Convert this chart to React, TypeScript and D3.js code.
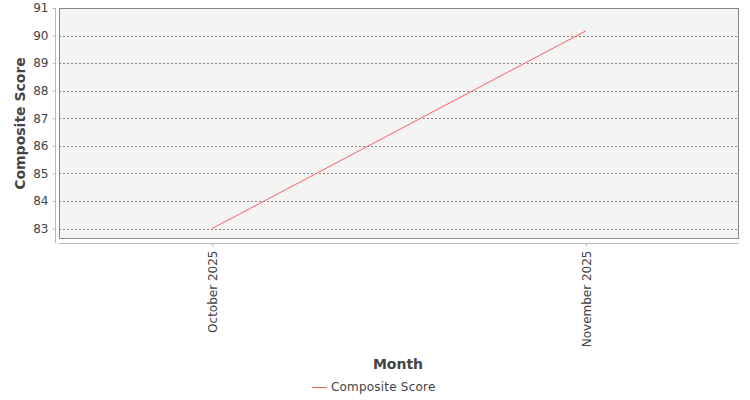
import { useEffect, useRef } from "react";
import * as d3 from "d3";

const months = ["October 2025", "November 2025"];
const compositeScores = [83.0, 90.17];
const yTicks = [83, 84, 85, 86, 87, 88, 89, 90, 91];
const seriesName = "Composite Score";

const width = 750;
const height = 400;
const plot = { left: 59, right: 739, top: 8, bottom: 239 };
const font = "'DejaVu Sans', sans-serif";
const lineColor = "#ff5f5f";

export default function App() {
  const svgRef = useRef<SVGSVGElement | null>(null);

  useEffect(() => {
    if (!svgRef.current) return;
    const svg = d3.select(svgRef.current);
    svg.selectAll("*").remove();

    const x = d3
      .scalePoint<string>()
      .domain(months)
      .range([plot.left, plot.right])
      .padding(0.41);

    const y = d3
      .scaleLinear()
      .domain([82.62, 91])
      .range([plot.bottom, plot.top]);

    // plot background
    svg
      .append("rect")
      .attr("x", plot.left)
      .attr("y", plot.top)
      .attr("width", plot.right - plot.left)
      .attr("height", plot.bottom - plot.top)
      .attr("fill", "#f4f4f4");

    // grid lines
    svg
      .append("g")
      .attr("transform", `translate(${plot.left},0)`)
      .call(
        d3
          .axisLeft(y)
          .tickValues(yTicks)
          .tickSize(-(plot.right - plot.left))
          .tickFormat(() => ""),
      )
      .call((g) => g.select(".domain").remove())
      .selectAll("line")
      .attr("stroke", "#555")
      .attr("stroke-width", 0.7)
      .attr("stroke-dasharray", "2 2")
      .attr("shape-rendering", "crispEdges");

    // plot border
    svg
      .append("rect")
      .attr("x", plot.left + 0.5)
      .attr("y", plot.top + 0.5)
      .attr("width", plot.right - plot.left - 1)
      .attr("height", plot.bottom - plot.top - 1)
      .attr("fill", "none")
      .attr("stroke", "#888")
      .attr("stroke-width", 1);

    // y axis
    const yAxis = svg
      .append("g")
      .attr("transform", `translate(${plot.left - 3.5},0)`)
      .call(d3.axisLeft(y).tickValues(yTicks).tickSize(3).tickPadding(4));
    yAxis
      .select(".domain")
      .attr("d", `M0,${plot.top}V${plot.bottom + 4}`)
      .attr("stroke", "#bbb");
    yAxis.selectAll(".tick line").attr("stroke", "#bbb");
    yAxis
      .selectAll("text")
      .attr("fill", "#444")
      .style("font-family", font)
      .style("font-size", "12px");

    // x axis
    const xAxis = svg
      .append("g")
      .attr("transform", `translate(0,${plot.bottom + 4.5})`)
      .call(d3.axisBottom(x).tickSize(3).tickPadding(4));
    xAxis
      .select(".domain")
      .attr("d", `M${plot.left},0H${plot.right}`)
      .attr("stroke", "#bbb");
    xAxis.selectAll(".tick line").attr("stroke", "#bbb");
    xAxis
      .selectAll("text")
      .attr("fill", "#444")
      .attr("transform", "rotate(-90)")
      .attr("text-anchor", "end")
      .attr("x", -7)
      .attr("y", 0)
      .attr("dy", "0.35em")
      .style("font-family", font)
      .style("font-size", "12px");

    // series line
    const line = d3
      .line<number>()
      .x((_, i) => x(months[i]) ?? 0)
      .y((d) => y(d));
    svg
      .append("path")
      .datum(compositeScores)
      .attr("d", line)
      .attr("fill", "none")
      .attr("stroke", lineColor)
      .attr("stroke-width", 1);

    // axis titles
    svg
      .append("text")
      .text("Month")
      .attr("x", 398)
      .attr("y", 369)
      .attr("text-anchor", "middle")
      .attr("fill", "#444")
      .style("font-family", font)
      .style("font-size", "14px")
      .style("font-weight", "bold");

    svg
      .append("text")
      .text("Composite Score")
      .attr("transform", `translate(25,${(plot.top + plot.bottom) / 2}) rotate(-90)`)
      .attr("text-anchor", "middle")
      .attr("fill", "#444")
      .style("font-family", font)
      .style("font-size", "14px")
      .style("font-weight", "bold");

    // legend
    const legend = svg.append("g").attr("transform", "translate(312,387)");
    legend
      .append("line")
      .attr("x1", 0)
      .attr("x2", 15)
      .attr("y1", 0.5)
      .attr("y2", 0.5)
      .attr("stroke", lineColor)
      .attr("stroke-width", 1)
      .attr("shape-rendering", "crispEdges");
    legend
      .append("text")
      .text(seriesName)
      .attr("x", 19)
      .attr("y", 0)
      .attr("dy", "0.35em")
      .attr("fill", "#444")
      .style("font-family", font)
      .style("font-size", "12px")
      .style("letter-spacing", "0.2px");
  }, []);

  return (
    <svg
      ref={svgRef}
      width={width}
      height={height}
      viewBox={`0 0 ${width} ${height}`}
      style={{ position: "absolute", left: 0, top: 0, background: "#fff" }}
    />
  );
}
